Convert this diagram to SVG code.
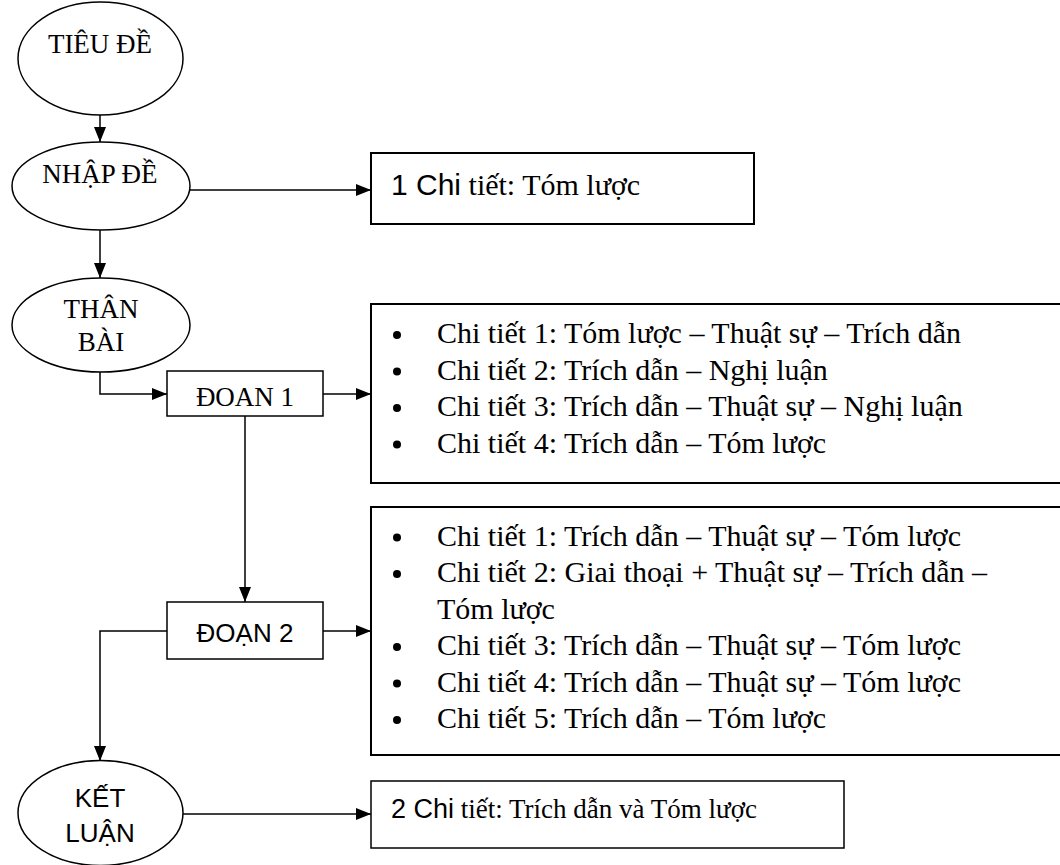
<svg xmlns="http://www.w3.org/2000/svg" width="1060" height="865" viewBox="0 0 1060 865">
  <defs>
    <marker id="arrow" markerWidth="15" markerHeight="12" refX="15" refY="6" orient="auto" markerUnits="userSpaceOnUse">
      <path d="M0,0 L15,6 L0,12 Z" fill="#000"/>
    </marker>
    <style>
      .shape { fill: #fff; stroke: #000; stroke-width: 1.5; }
      .box { fill: #fff; stroke: #000; stroke-width: 2; }
      .link { fill: none; stroke: #000; stroke-width: 1.5; marker-end: url(#arrow); }
      .serif { font-family: "Liberation Serif", "Times New Roman", serif; fill: #000; }
      .sans { font-family: "Liberation Sans", Arial, sans-serif; fill: #000; }
      .lbl { font-size: 27px; text-anchor: middle; }
      .lbls { font-size: 26px; text-anchor: middle; }
      .item { font-size: 30px; }
      .dot { fill: #000; }
    </style>
  </defs>
  <rect width="1060" height="865" fill="#fff"/>

  <!-- connectors -->
  <g id="connectors">
    <path class="link" d="M100,115 V142"/>
    <path class="link" d="M190,190 H371"/>
    <path class="link" d="M100,230 V278"/>
    <path class="link" d="M100,372 V394 H167"/>
    <path class="link" d="M323,394 H371"/>
    <path class="link" d="M245,416 V602"/>
    <path class="link" d="M167,631 H100 V761"/>
    <path class="link" d="M323,631 H371"/>
    <path class="link" d="M182,814 H371"/>
  </g>

  <g id="tieu-de">
    <ellipse class="shape" cx="100.5" cy="58.5" rx="82.5" ry="56.5"/>
    <text class="serif lbl" x="100" y="53">TIÊU ĐỀ</text>
  </g>

  <g id="nhap-de">
    <ellipse class="shape" cx="101" cy="186" rx="89" ry="44"/>
    <text class="serif lbl" x="100" y="183">NHẬP ĐỀ</text>
  </g>

  <g id="nhap-de-detail">
    <rect class="box" x="371" y="153" width="383" height="71"/>
    <text class="serif item" x="391" y="195"><tspan class="sans">1 Chi</tspan> tiết: Tóm lược</text>
  </g>

  <g id="than-bai">
    <ellipse class="shape" cx="101" cy="325" rx="89" ry="47"/>
    <text class="serif lbl" x="101" y="318">THÂN</text>
    <text class="serif lbl" x="101" y="351">BÀI</text>
  </g>

  <g id="doan-1">
    <rect class="shape" x="167" y="371" width="156" height="45"/>
    <text class="serif lbl" x="245" y="406">ĐOAN 1</text>
  </g>

  <g id="doan-1-detail">
    <rect class="box" x="371" y="304" width="720" height="179"/>
    <circle class="dot" cx="397" cy="335" r="4"/>
    <circle class="dot" cx="397" cy="371.5" r="4"/>
    <circle class="dot" cx="397" cy="408" r="4"/>
    <circle class="dot" cx="397" cy="444.5" r="4"/>
    <text class="serif item" x="437" y="343">Chi tiết 1: Tóm lược – Thuật sự – Trích dẫn</text>
    <text class="serif item" x="437" y="379.5">Chi tiết 2: Trích dẫn – Nghị luận</text>
    <text class="serif item" x="437" y="416">Chi tiết 3: Trích dẫn – Thuật sự – Nghị luận</text>
    <text class="serif item" x="437" y="452.5">Chi tiết 4: Trích dẫn – Tóm lược</text>
  </g>

  <g id="doan-2">
    <rect class="shape" x="167" y="602" width="156" height="57"/>
    <text class="sans lbls" x="245" y="642">ĐOẠN 2</text>
  </g>

  <g id="doan-2-detail">
    <rect class="box" x="371" y="507" width="720" height="248"/>
    <circle class="dot" cx="397" cy="537.5" r="4"/>
    <circle class="dot" cx="397" cy="574" r="4"/>
    <circle class="dot" cx="397" cy="647" r="4"/>
    <circle class="dot" cx="397" cy="683.5" r="4"/>
    <circle class="dot" cx="397" cy="720" r="4"/>
    <text class="serif item" x="437" y="545.5">Chi tiết 1: Trích dẫn – Thuật sự – Tóm lược</text>
    <text class="serif item" x="437" y="582">Chi tiết 2: Giai thoại + Thuật sự – Trích dẫn –</text>
    <text class="serif item" x="437" y="618.5">Tóm lược</text>
    <text class="serif item" x="437" y="655">Chi tiết 3: Trích dẫn – Thuật sự – Tóm lược</text>
    <text class="serif item" x="437" y="691.5">Chi tiết 4: Trích dẫn – Thuật sự – Tóm lược</text>
    <text class="serif item" x="437" y="728">Chi tiết 5: Trích dẫn – Tóm lược</text>
  </g>

  <g id="ket-luan">
    <ellipse class="shape" cx="100.5" cy="813" rx="82.5" ry="52.5"/>
    <text class="sans lbls" x="100" y="807">KẾT</text>
    <text class="sans lbls" x="100" y="842">LUẬN</text>
  </g>

  <g id="ket-luan-detail">
    <rect class="shape" x="371" y="781" width="473" height="67"/>
    <text class="serif item" x="391" y="818" style="font-size:27px"><tspan class="sans">2 Chi</tspan> tiết: Trích dẫn và Tóm lược</text>
  </g>
</svg>
